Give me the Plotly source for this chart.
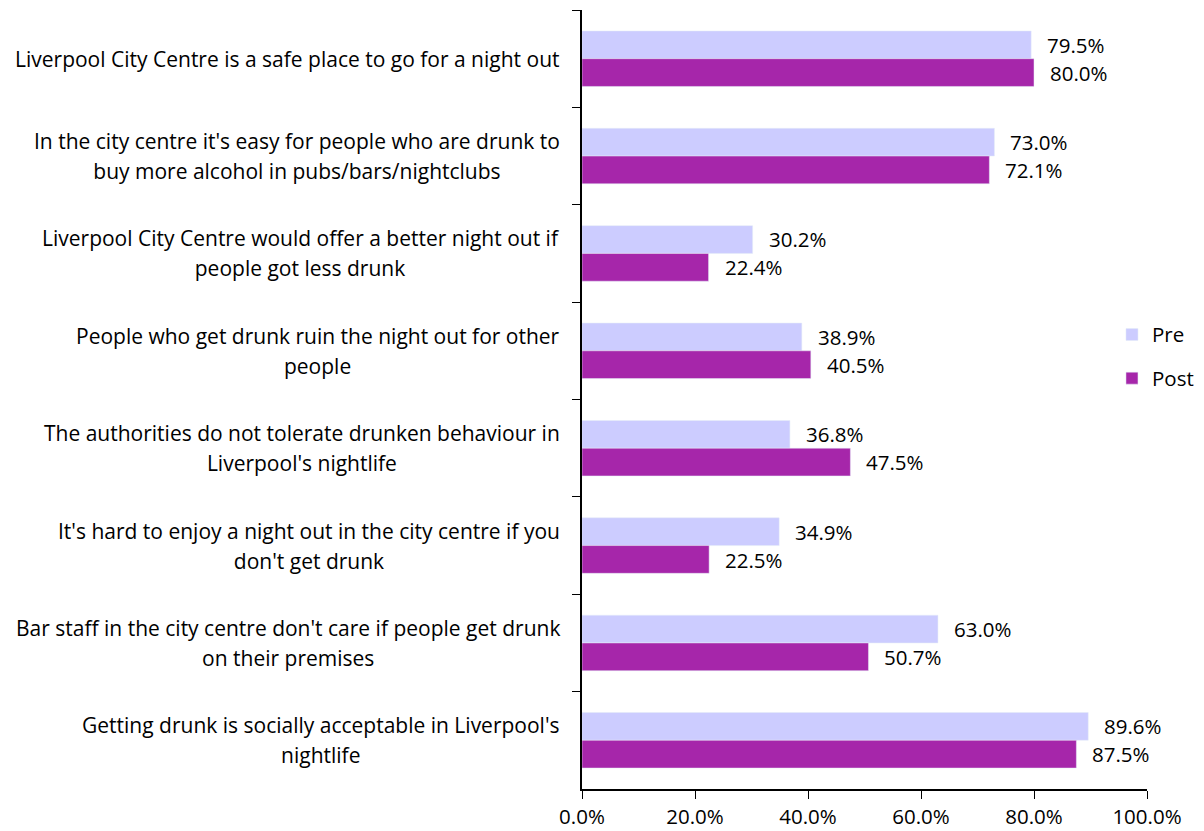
import plotly.graph_objects as go

categories = [
    "Liverpool City Centre is a safe place to go for a night out",
    "In the city centre it's easy for people who are drunk to<br>buy more alcohol in pubs/bars/nightclubs",
    "Liverpool City Centre would offer a better night out if<br>people got less drunk",
    "People who get drunk ruin the night out for other<br>people",
    "The authorities do not tolerate drunken behaviour in<br>Liverpool's nightlife",
    "It's hard to enjoy a night out in the city centre if you<br>don't get drunk",
    "Bar staff in the city centre don't care if people get drunk<br>on their premises",
    "Getting drunk is socially acceptable in Liverpool's<br>nightlife",
]
pre = [79.5, 73.0, 30.2, 38.9, 36.8, 34.9, 63.0, 89.6]
post = [80.0, 72.1, 22.4, 40.5, 47.5, 22.5, 50.7, 87.5]
x_ticks = [0, 20, 40, 60, 80, 100]

FONT = "Open Sans"
FS = 20.5
LFS = 21
PRE_COLOR = "#CCCCFF"
POST_COLOR = "#A626AA"

fig = go.Figure()
fig.add_trace(go.Bar(y=categories, x=pre, name="Pre", orientation="h",
                     marker_color=PRE_COLOR, legendgroup="a"))
fig.add_trace(go.Bar(y=categories, x=post, name="Post", orientation="h",
                     marker_color=POST_COLOR, legendgroup="b"))

annotations = []
for c, v in zip(categories, pre):
    annotations.append(dict(x=v, y=c, text=f"{v:.1f}%", showarrow=False,
                            xanchor="left", xshift=14, yshift=14,
                            font=dict(size=FS, color="#000", family=FONT)))
for c, v in zip(categories, post):
    annotations.append(dict(x=v, y=c, text=f"{v:.1f}%", showarrow=False,
                            xanchor="left", xshift=14, yshift=-14,
                            font=dict(size=FS, color="#000", family=FONT)))
for c in categories:
    lines = c.split("<br>")
    txt = "<br>".join(f"<span style='font-size:{LFS}px'>{ln}</span>" for ln in lines)
    annotations.append(dict(x=0, xref="paper", y=c, text=txt, showarrow=False,
                            xanchor="right", xshift=-20, align="center",
                            font=dict(size=23, color="#000", family=FONT)))

fig.update_layout(
    width=1196, height=823,
    margin=dict(l=574, r=57, t=2, b=42, autoexpand=False),
    plot_bgcolor="white", paper_bgcolor="white",
    barmode="group", bargap=0.43, bargroupgap=0,
    font=dict(family=FONT, size=FS, color="#000"),
    showlegend=True,
    legend=dict(x=0.938, y=0.555, xanchor="left", yanchor="middle",
                traceorder="grouped", tracegroupgap=14,
                font=dict(size=FS, family=FONT), bgcolor="rgba(0,0,0,0)"),
    annotations=annotations,
)
fig.update_yaxes(autorange="reversed", showticklabels=False, ticks="outside",
                 tickson="boundaries", ticklen=8, tickcolor="#000",
                 showline=True, linecolor="#000", linewidth=2, showgrid=False)
fig.update_xaxes(range=[0, 100], tickvals=x_ticks,
                 ticktext=[f"{t:.1f}%" for t in x_ticks],
                 ticks="outside", ticklen=8, tickcolor="#000",
                 showline=True, linecolor="#000", linewidth=2, showgrid=False,
                 zeroline=False, tickfont=dict(size=FS, family=FONT))

fig.write_html("out.html")
